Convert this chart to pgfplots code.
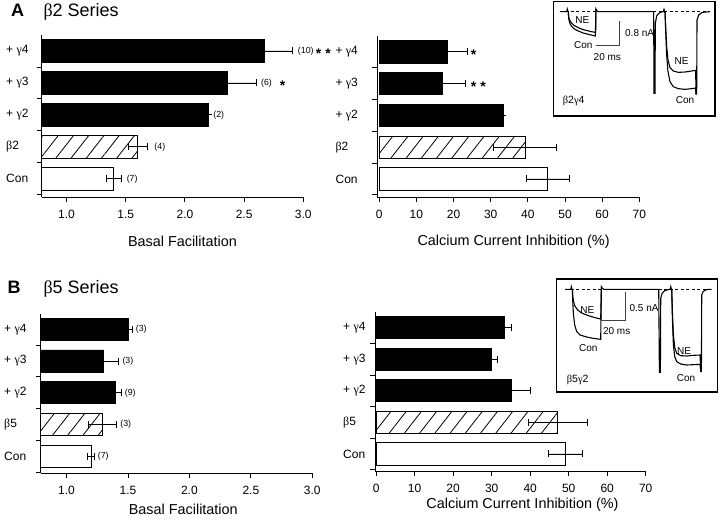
\documentclass[border=0pt]{standalone}
\usepackage{fontspec}
\setmainfont{Liberation Sans}
\newfontfamily\grk{Liberation Serif}
\usepackage{pgfplots}
\pgfplotsset{compat=1.18}
\usetikzlibrary{patterns.meta}
\newcommand{\G}[1]{{\grk #1}}
\newcommand{\insetfont}{\fontsize{9.5}{11}\selectfont}
\newcommand{\nfont}{\fontsize{8.8}{10}\selectfont}
\newcommand{\sfont}{\fontsize{12}{14}\selectfont}
\newcommand{\stfont}{\bfseries\fontsize{14}{16}\selectfont}

\pgfplotsset{
  barpanel/.style={
    scale only axis,
    axis lines=left,
    axis line style={-, line width=0.9pt},
    tick align=outside,
    major tick length=5pt,
    minor tick length=5pt,
    tick style={line width=0.9pt, black},
    xbar, bar width=0.7, bar shift=0pt,
    enlargelimits=false,
    ytick={0,1,2,3,4},
    minor ytick={-0.5,0.5,1.5,2.5,3.5},
    every major y tick/.append style={draw=none},
    ymax=4.5,
    clip mode=individual,
    /pgf/number format/assume math mode=true,
    tick label style={font=\sfont},
    yticklabel style={anchor=west, inner sep=0pt},
    xticklabel style={yshift=-5pt},
    xlabel style={font=\fontsize{14.4}{16}\selectfont, anchor=center},
  },
  eb/.style={error bars/.cd, x dir=both, x explicit,
    error mark=|,
    error bar style={line width=0.8pt, black},
    error mark options={black, line width=0.8pt, mark size=3.5pt}},
  blackbar/.style={fill=black, draw=black, line width=0.9pt},
  hatchbar/.style={draw=black, line width=0.9pt, pattern={Lines[angle=52, distance=12pt, line width=0.8pt]}, pattern color=black},
  whitebar/.style={fill=white, draw=black, line width=0.9pt},
  trace/.style={black, line width=1.1pt, mark=none},
  inset/.style={scale only axis, y dir=reverse, xtick=\empty, ytick=\empty,
    axis line style={line width=1.1pt}, clip=false,
    every node/.append style={font=\insetfont}},
}

\begin{document}
\begin{tikzpicture}
\useasboundingbox (0,0) rectangle (720pt,-522pt);

% titles
\node[anchor=base west, inner sep=0pt, font=\bfseries\fontsize{18}{20}\selectfont] at (11pt,-16.7pt) {A};
\node[anchor=base west, inner sep=0pt, font=\fontsize{18}{20}\selectfont] at (43.3pt,-16.7pt) {\G{β}2 Series};
\node[anchor=base west, inner sep=0pt, font=\bfseries\fontsize{18}{20}\selectfont] at (7.3pt,-293.3pt) {B};
\node[anchor=base west, inner sep=0pt, font=\fontsize{18}{20}\selectfont] at (43.3pt,-293.3pt) {\G{β}5 Series};

% ---------------- A left
\begin{axis}[barpanel, at={(41.7pt,-197pt)}, anchor=south west,
  width=261.6pt, height=162pt, xmin=0.79, xmax=3.0, ymin=-0.57,
  xtick={1,1.5,2,2.5,3},
  xticklabel style={/pgf/number format/.cd, fixed, fixed zerofill, precision=1},
  yticklabels={Con, \G{β}2, + \G{γ}2, + \G{γ}3, + \G{γ}4},
  yticklabel style={xshift=-30.7pt},
  xlabel={Basal Facilitation},
  xlabel style={at={(axis description cs:0.538,-0.272)}}]
\addplot[blackbar, eb] coordinates {(2.67,4) +- (0.24,0) (2.355,3) +- (0.245,0) (2.20,2) +- (0,0)};
\addplot[hatchbar, eb] coordinates {(1.60,1) +- (0.08,0)};
\addplot[whitebar, eb] coordinates {(1.40,0) +- (0.065,0)};
\node[anchor=west, inner sep=0pt, font=\nfont] at (axis cs:2.953,4) {(10)};
\node[anchor=west, inner sep=0pt, font=\stfont, yshift=-3pt] at (axis cs:3.105,4) {*\hspace{4pt}*};
\node[anchor=west, inner sep=0pt, font=\nfont] at (axis cs:2.642,3) {(6)};
\node[anchor=west, inner sep=0pt, font=\stfont, yshift=-3pt] at (axis cs:2.800,3) {*};
\node[anchor=west, inner sep=0pt, font=\nfont] at (axis cs:2.239,2) {(2)};
\node[anchor=west, inner sep=0pt, font=\nfont] at (axis cs:1.741,1) {(4)};
\node[anchor=west, inner sep=0pt, font=\nfont] at (axis cs:1.507,0) {(7)};
\end{axis}

% ---------------- A right
\begin{axis}[barpanel, at={(377.4pt,-197pt)}, anchor=south west,
  width=261.9pt, height=161pt, xmin=-0.5, xmax=70, ymin=-0.57,
  xtick={0,10,...,70},
  yticklabels={Con, \G{β}2, + \G{γ}2, + \G{γ}3, + \G{γ}4},
  yticklabel style={xshift=-37pt},
  xlabel={Calcium Current Inhibition (\%)},
  xlabel style={at={(axis description cs:0.52,-0.28)}}]
\addplot[blackbar, eb] coordinates {(18.3,4) +- (5.5,0) (16.9,3) +- (6.4,0) (33.3,2) +- (0,0)};
\addplot[hatchbar, eb] coordinates {(39.3,1) +- (8.5,0)};
\addplot[whitebar, eb] coordinates {(45.3,0) +- (5.8,0)};
\node[anchor=west, inner sep=0pt, font=\stfont, yshift=-3pt] at (axis cs:24.6,4) {*};
\node[anchor=west, inner sep=0pt, font=\stfont, yshift=-3pt] at (axis cs:24.6,3) {*\hspace{4pt}*};
\end{axis}

% ---------------- B left
\begin{axis}[barpanel, at={(40.7pt,-473pt)}, anchor=south west,
  width=271.6pt, height=159.5pt, xmin=0.79, xmax=3.0, ymin=-0.53,
  xtick={1,1.5,2,2.5,3},
  xticklabel style={/pgf/number format/.cd, fixed, fixed zerofill, precision=1},
  yticklabels={Con, \G{β}5, + \G{γ}2, + \G{γ}3, + \G{γ}4},
  yticklabel style={xshift=-31.7pt},
  xlabel={Basal Facilitation},
  xlabel style={at={(axis description cs:0.525,-0.226)}}]
\addplot[blackbar, eb] coordinates {(1.505,4) +- (0.035,0) (1.30,3) +- (0.125,0) (1.40,2) +- (0.046,0)};
\addplot[hatchbar, eb] coordinates {(1.295,1) +- (0.115,0)};
\addplot[whitebar, eb] coordinates {(1.20,0) +- (0.03,0)};
\node[anchor=west, inner sep=0pt, font=\nfont] at (axis cs:1.563,4) {(3)};
\node[anchor=west, inner sep=0pt, font=\nfont] at (axis cs:1.454,3) {(3)};
\node[anchor=west, inner sep=0pt, font=\nfont] at (axis cs:1.473,2) {(9)};
\node[anchor=west, inner sep=0pt, font=\nfont] at (axis cs:1.437,1) {(3)};
\node[anchor=west, inner sep=0pt, font=\nfont] at (axis cs:1.254,0) {(7)};
\end{axis}

% ---------------- B right
\begin{axis}[barpanel, at={(375pt,-471pt)}, anchor=south west,
  width=270.7pt, height=159pt, xmin=-0.3, xmax=70, ymin=-0.54,
  xtick={0,10,...,70},
  yticklabels={Con, \G{β}5, + \G{γ}2, + \G{γ}3, + \G{γ}4},
  yticklabel style={xshift=-27pt},
  xlabel={Calcium Current Inhibition (\%)},
  xlabel style={at={(axis description cs:0.545,-0.213)}}]
\addplot[blackbar, eb] coordinates {(33.3,4) +- (1.9,0) (30.0,3) +- (1.5,0) (35.2,2) +- (4.8,0)};
\addplot[hatchbar, eb] coordinates {(47.2,1) +- (7.6,0)};
\addplot[whitebar, eb] coordinates {(49.2,0) +- (4.4,0)};
\end{axis}

% ---------------- Inset A
\begin{axis}[inset, at={(553.3pt,-116pt)}, anchor=south west,
  width=161.7pt, height=114.3pt, xmin=10, xmax=495, ymin=5, ymax=348]
\addplot[black, mark=none, line width=0.6pt, dash pattern=on 3pt off 2.5pt] coordinates {(30,35) (475,35)};
\addplot[trace] coordinates {(30,35)(50,35)(52,27)(54,35)(55,35)(56,50)(59,60)(64,68)(72,76)(85,83)(100,89)(120,94)(136,97)(137,97)(138,27)(141,33)(146,35)(310,35)(311,35)(312,280)(315,280)(316,70)(320,48)(326,40)(334,36)(340,35)(342,28)(344,35)(345,35)(347,80)(350,140)(354,180)(360,203)(370,213)(385,217)(405,216)(425,213)(437,211)(438,282)(440,282)(441,60)(446,45)(455,38)(465,36)(480,35)};
\addplot[trace] coordinates {(55,35)(56,55)(59,68)(64,78)(72,86)(85,93)(100,99)(120,104)(136,108)(138,27)};
\addplot[trace] coordinates {(345,35)(347,90)(350,165)(354,215)(360,245)(370,260)(385,266)(405,268)(425,266)(437,264)(438,282)};
\addplot[mark=none, line width=0.7pt, black!75] coordinates {(137,137)(208,137)(208,62)};
\node at (axis cs:97,60) {NE};
\node at (axis cs:100,135) {Con};
\node[anchor=west] at (axis cs:215,100) {0.8 nA};
\node at (axis cs:172,172) {20 ms};
\node at (axis cs:395,182) {NE};
\node at (axis cs:405,300) {Con};
\node[anchor=west, font=\fontsize{10.5}{12}\selectfont] at (axis cs:28,302) {\G{β}2\G{γ}4};
\end{axis}

% ---------------- Inset B
\begin{axis}[inset, at={(556.7pt,-392pt)}, anchor=south west,
  width=160.7pt, height=113pt, xmin=20, xmax=502, ymin=12, ymax=351]
\addplot[black, mark=none, line width=0.6pt, dash pattern=on 3pt off 2.5pt] coordinates {(45,43) (485,43)};
\addplot[trace] coordinates {(45,43)(62,43)(64,35)(66,43)(67,43)(68,60)(70,78)(74,92)(82,104)(95,114)(115,122)(135,128)(152,132)(154,35)(157,40)(162,43)(326,43)(328,292)(331,292)(332,70)(336,55)(344,47)(354,44)(360,43)(362,35)(364,43)(365,43)(367,110)(370,180)(374,218)(380,235)(392,242)(410,243)(430,241)(450,240)(452,290)(454,290)(455,60)(459,50)(466,45)(475,43)(485,43)};
\addplot[trace] coordinates {(67,43)(68,75)(70,115)(74,150)(80,170)(90,180)(110,186)(130,190)(152,193)(154,35)};
\addplot[trace] coordinates {(365,43)(367,130)(370,210)(374,245)(380,260)(392,267)(410,270)(430,269)(450,268)(452,290)};
\addplot[mark=none, line width=0.7pt, black!75] coordinates {(155,136)(227,136)(227,50)};
\node at (axis cs:112,105) {NE};
\node at (axis cs:115,220) {Con};
\node[anchor=west] at (axis cs:228,100) {0.5 nA};
\node at (axis cs:200,168) {20 ms};
\node at (axis cs:402,228) {NE};
\node at (axis cs:408,310) {Con};
\node[anchor=west, font=\fontsize{10.5}{12}\selectfont] at (axis cs:40,315) {\G{β}5\G{γ}2};
\end{axis}
\end{tikzpicture}
\end{document}
